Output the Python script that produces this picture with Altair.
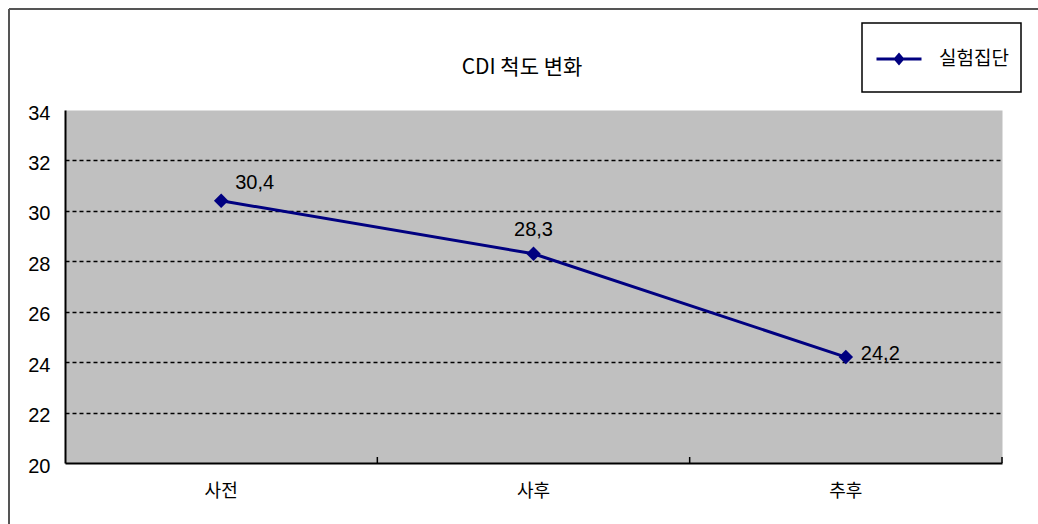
import altair as alt
import pandas as pd

# ---- data ----
categories = ["사전", "사후", "추후"]
values = [30.4, 28.3, 24.2]
value_labels = ["30,4", "28,3", "24,2"]
series_name = "실험집단"
title_text = "CDI 척도 변화"
y_ticks = [20, 22, 24, 26, 28, 30, 32, 34]

df = pd.DataFrame({
    "단계": categories,
    "값": values,
    "라벨": value_labels,
    "집단": [series_name] * len(categories),
})

W, H = 937, 353
NUMFONT = "Liberation Sans Narrow, Liberation Sans, Noto Sans CJK KR, sans-serif"
KFONT = "Noto Sans CJK KR, sans-serif"
NAVY = "#000080"

xscale = alt.Scale(type="band", paddingInner=0, paddingOuter=0)
x_enc = alt.X(
    "단계:N", sort=categories, scale=xscale, bandPosition=0.5,
    axis=alt.Axis(title=None, labelAngle=0, tickSize=0, labelPadding=19,
                  labelFontSize=18, labelFont=KFONT, labelColor="black",
                  labelFontWeight="normal",
                  domainColor="black", domainWidth=2, grid=False),
)
y_enc = alt.Y(
    "값:Q",
    scale=alt.Scale(domain=[20, 34], nice=False, zero=False),
    axis=alt.Axis(values=y_ticks, title=None, tickSize=0, labelPadding=15,
                  labelOffset=3, labelFontSize=20, labelFont=NUMFONT,
                  labelColor="black", domainColor="black", domainWidth=2,
                  gridColor="black", gridDash=[4, 3], gridWidth=1.6,
                  gridOpacity={"condition": {"test": "datum.value === 34 || datum.value === 20",
                                             "value": 0}, "value": 1}),
)

base = alt.Chart(df)

# inward category-boundary ticks on the x axis
xticks = base.mark_rule(color="black", strokeWidth=1.5).encode(
    x=alt.X("단계:N", sort=categories, scale=xscale, bandPosition=1),
    y=alt.value(H - 6), y2=alt.value(H),
)

line = base.mark_line(color=NAVY, strokeWidth=3).encode(x=x_enc, y=y_enc)

points = base.mark_point(shape="diamond", filled=True, size=210, opacity=1).encode(
    x=x_enc, y=y_enc,
    color=alt.Color("집단:N", scale=alt.Scale(domain=[series_name], range=[NAVY]),
                    legend=alt.Legend(
                        orient="none", legendX=810, legendY=-75, title=None,
                        symbolType="M-1,0H1M-0.16,0L0,-0.19L0.16,0L0,0.19Z",
                        symbolSize=2025, symbolStrokeWidth=3,
                        symbolFillColor=NAVY, symbolStrokeColor=NAVY,
                        labelFontSize=19, labelFont=KFONT, labelColor="black",
                        labelOffset=16, padding=0)),
)

txt_style = dict(fontSize=20, font=NUMFONT, color="black")
lab1 = base.transform_filter(alt.datum["단계"] == categories[0]).mark_text(
    align="left", baseline="middle", dx=14, dy=-18, **txt_style
).encode(x=x_enc, y=y_enc, text="라벨:N")
lab2 = base.transform_filter(alt.datum["단계"] == categories[1]).mark_text(
    align="center", baseline="middle", dy=-24, **txt_style
).encode(x=x_enc, y=y_enc, text="라벨:N")
lab3 = base.transform_filter(alt.datum["단계"] == categories[2]).mark_text(
    align="left", baseline="middle", dx=15, dy=-3, **txt_style
).encode(x=x_enc, y=y_enc, text="라벨:N")

one = pd.DataFrame({"t": [title_text]})
title = alt.Chart(one).mark_text(
    fontSize=21, font=KFONT, color="black", align="center", baseline="middle"
).encode(text="t:N", x=alt.value(457), y=alt.value(-42))

legend_box = alt.Chart(one).mark_rect(fill="white", stroke="black", strokeWidth=1.5).encode(
    x=alt.value(797), x2=alt.value(956), y=alt.value(-87), y2=alt.value(-18)
)

border_top = alt.Chart(one).mark_rule(color="#555555", strokeWidth=2).encode(
    x=alt.value(-56), x2=alt.value(980), y=alt.value(-101)
)
border_left = alt.Chart(one).mark_rule(color="#555555", strokeWidth=2).encode(
    x=alt.value(-56), y=alt.value(-101), y2=alt.value(420)
)

chart = alt.layer(
    border_top, border_left, title, legend_box,
    line, xticks, points, lab1, lab2, lab3,
).properties(
    width=W, height=H,
    autosize=alt.AutoSizeParams(type="none"),
    padding={"left": 65, "top": 110, "right": 36, "bottom": 61},
    background="white",
).configure_view(fill="#C0C0C0", stroke="transparent")

chart.save("out.html", embed_options={"renderer": "svg", "actions": False})
